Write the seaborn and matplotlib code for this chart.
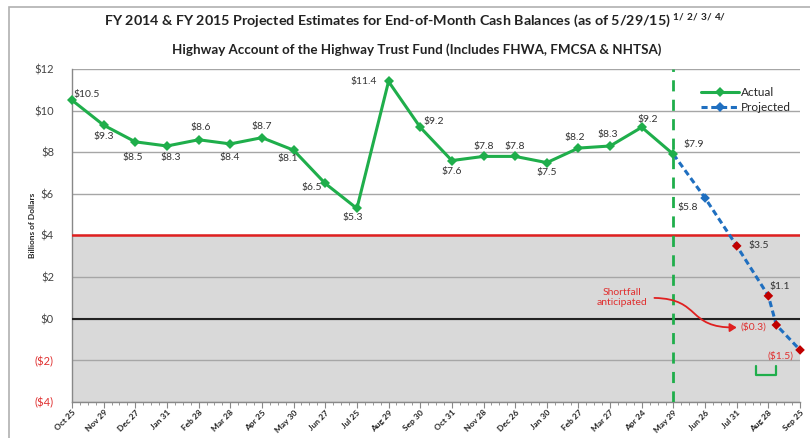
import matplotlib
matplotlib.use("Agg")
import numpy as np
import pandas as pd
import seaborn as sns
import matplotlib.pyplot as plt
from matplotlib.lines import Line2D
from matplotlib.patches import FancyArrowPatch, Rectangle
from matplotlib.path import Path

months = ["Oct 25", "Nov 29", "Dec 27", "Jan 31", "Feb 28", "Mar 28", "Apr 25", "May 30",
          "Jun 27", "Jul 25", "Aug 29", "Sep 30", "Oct 31", "Nov 28", "Dec 26", "Jan 30",
          "Feb 27", "Mar 27", "Apr 24", "May 29", "Jun 26", "Jul 31", "Aug 28", "Sep 25"]
actual = [10.5, 9.3, 8.5, 8.3, 8.6, 8.4, 8.7, 8.1, 6.5, 5.3, 11.4, 9.2,
          7.6, 7.8, 7.8, 7.5, 8.2, 8.3, 9.2, 7.9]
# projected points sit on the month axis; one extra point a week after Aug 28
proj_pos = [19, 20, 21, 22, 22.25, 23]
projected = [7.9, 5.8, 3.5, 1.1, -0.3, -1.5]
y_ticks = [-4, -2, 0, 2, 4, 6, 8, 10, 12]

GREEN = "#1fae4b"
BLUE = "#1f6fc0"
RED = "#c00000"

df_act = pd.DataFrame({"pos": np.arange(len(actual)), "balance": actual})
df_proj = pd.DataFrame({"pos": proj_pos, "balance": projected})
df_proj["zone"] = np.where(df_proj["balance"] < 4, "low", "ok")

sns.set_style("white")
plt.rcParams["font.family"] = ["Lato", "DejaVu Sans"]
plt.rcParams["mathtext.default"] = "regular"

fig = plt.figure(figsize=(8.1, 4.38), dpi=100)
ax = fig.add_axes([0.0889, 0.0822, 0.8988, 0.7603])

ax.axhspan(-4, 4, color="#d9d9d9", zorder=0, lw=0)
ax.yaxis.grid(True, color="#a6a6a6", lw=1, zorder=1)
ax.set_axisbelow(True)
ax.axhline(4, color="#e02020", lw=1.8, zorder=3)
ax.axhline(0, color="#222222", lw=1.5, zorder=3)
ax.axvline(19, color=GREEN, lw=2, ls=(0, (4, 3)), zorder=3)

sns.lineplot(data=df_proj, x="pos", y="balance", color=BLUE, lw=2.2,
             linestyle=(0, (2, 1.2)), ax=ax, zorder=4)
sns.scatterplot(data=df_proj.iloc[1:], x="pos", y="balance", hue="zone",
                palette={"low": RED, "ok": BLUE}, marker="D", s=24,
                edgecolor="none", legend=False, ax=ax, zorder=5, clip_on=False)
sns.lineplot(data=df_act, x="pos", y="balance", color=GREEN, lw=2.2,
             marker="D", markersize=5, markeredgewidth=0, ax=ax, zorder=6,
             clip_on=False)

# label offsets in pixels (dx, dy) for each point
act_off = [(15, 6), (0, -11), (-3, -16), (4, -12), (2, 12), (-1, -14), (0, 11),
           (-6, -8), (-13, -4), (-4, -9), (-25, 0), (14, 6), (0, -11), (0, 10),
           (0, 10), (0, -10), (-4, 11), (-2, 11), (6, 8), (20, 10)]
for x, v, off in zip(df_act["pos"], actual, act_off):
    ax.annotate(f"${v:.1f}", (x, v), xytext=off, textcoords="offset pixels",
                ha="center", va="center", fontsize=7.5, color="#333333", zorder=7)

proj_off = [None, (-17, -9), (22, 0), (11, 9), (-23, -2), (-20, -6)]
for x, v, off in zip(proj_pos, projected, proj_off):
    if off is None:
        continue
    txt = f"${v:.1f}" if v >= 0 else f"(${-v:.1f})"
    col = "#333333" if v >= 0 else "#e03030"
    ax.annotate(txt, (x, v), xytext=off, textcoords="offset pixels",
                ha="center", va="center", fontsize=7.5, color=col, zorder=7)

# shortfall note with curved arrow
ax.text(17.38, 1.01, "Shortfall\nanticipated", color="#e03030", fontsize=7.5,
        ha="center", va="center", linespacing=1.1)
verts = [(18.4, 1.0), (19.9, 0.95), (19.4, -0.45), (21.0, -0.42)]
arrow_path = Path(verts, [Path.MOVETO, Path.CURVE4, Path.CURVE4, Path.CURVE4])
ax.add_patch(FancyArrowPatch(path=arrow_path, arrowstyle="-|>,head_length=4,head_width=2.5",
                             color="#e02020", lw=1.3, zorder=6))

# green bracket under the late-August points
ax.plot([21.6, 21.6, 22.25, 22.25], [-2.25, -2.7, -2.7, -2.25], color=GREEN, lw=1.6, zorder=4)

ax.set_xlim(0, 23)
ax.set_ylim(-4, 12)
ax.set_xticks(range(len(months)))
ax.set_xticklabels(months, rotation=45, ha="right", rotation_mode="anchor",
                   fontsize=6, fontweight="bold", color="#222222")
ax.set_xticks(np.arange(0, 23.01, 0.25), minor=True)
ax.tick_params(axis="x", which="major", length=4, color="#888888", bottom=True, pad=1)
ax.tick_params(axis="x", which="minor", length=2.5, color="#888888", bottom=True)
ax.set_yticks(y_ticks)
ax.set_yticklabels([f"${v}" if v >= 0 else f"(${-v})" for v in y_ticks], fontsize=8)
for lbl, v in zip(ax.get_yticklabels(), y_ticks):
    lbl.set_color("#444444" if v >= 0 else "#e03030")
ax.tick_params(axis="y", length=0, pad=13)
ax.set_xlabel("")
ax.set_ylabel("Billions of Dollars", fontsize=6, fontweight="bold")
ax.yaxis.set_label_coords(-0.049, 0.53)

for s in ["top", "right"]:
    ax.spines[s].set_visible(False)
for s in ["left", "bottom"]:
    ax.spines[s].set_color("#888888")
    ax.spines[s].set_linewidth(1)

handles = [Line2D([], [], color=GREEN, lw=2.2, marker="D", markersize=5, markeredgewidth=0),
           Line2D([], [], color=BLUE, lw=2.2, ls=(0, (2, 1.2)), marker="D", markersize=5,
                  markeredgewidth=0)]
fig.legend(handles, ["Actual", "Projected"], loc="upper left", bbox_to_anchor=(0.852, 0.825),
           frameon=False, fontsize=8.5, handlelength=3.2, handletextpad=0.2, labelspacing=0.3)

fig.text(0.512, 0.950, r"FY 2014 & FY 2015 Projected Estimates for End-of-Month Cash Balances (as of 5/29/15) $^{1/\ 2/\ 3/\ 4/}$",
         ha="center", va="center", fontsize=10.3, fontweight="bold", color="#222222")
fig.text(0.515, 0.886, "Highway Account of the Highway Trust Fund (Includes FHWA, FMCSA & NHTSA)",
         ha="center", va="center", fontsize=9.6, fontweight="bold", color="#222222")

fig.patches.append(Rectangle((0.011, -0.1), 1.2, 1.085, transform=fig.transFigure,
                             fill=False, edgecolor="#b0b0b0", lw=1.2))

fig.savefig("out.png", dpi=100)
